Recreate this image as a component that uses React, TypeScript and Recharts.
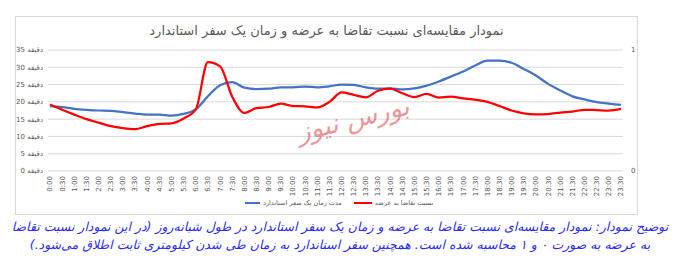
import { LineChart, Line, XAxis, YAxis, CartesianGrid } from 'recharts';

const TIMES = [
  '0:00', '0:30', '1:00', '1:30', '2:00', '2:30', '3:00', '3:30',
  '4:00', '4:30', '5:00', '5:30', '6:00', '6:30', '7:00', '7:30',
  '8:00', '8:30', '9:00', '9:30', '10:00', '10:30', '11:00', '11:30',
  '12:00', '12:30', '13:00', '13:30', '14:00', '14:30', '15:00', '15:30',
  '16:00', '16:30', '17:00', '17:30', '18:00', '18:30', '19:00', '19:30',
  '20:00', '20:30', '21:00', '21:30', '22:00', '22:30', '23:00', '23:30',
];

// standard trip duration, minutes (left axis)
const TRIP_MINUTES = [
  18.8, 18.5, 18.0, 17.7, 17.5, 17.4, 17.0, 16.6,
  16.3, 16.3, 16.0, 16.5, 17.8, 21.6, 24.8, 25.7,
  24.1, 23.7, 23.8, 24.2, 24.2, 24.4, 24.2, 24.5,
  25.0, 24.9, 24.2, 23.8, 23.9, 23.6, 23.9, 24.7,
  25.9, 27.3, 28.8, 30.5, 31.9, 31.9, 31.3, 29.5,
  27.6, 25.2, 23.3, 21.6, 20.7, 19.9, 19.5, 19.1,
];

// demand / supply ratio, 0..1 (right axis)
const DEMAND_RATIO = [
  0.549, 0.506, 0.466, 0.429, 0.4, 0.371, 0.354, 0.346,
  0.371, 0.389, 0.394, 0.434, 0.509, 0.9, 0.865, 0.614,
  0.48, 0.52, 0.529, 0.557, 0.537, 0.534, 0.526, 0.571,
  0.649, 0.629, 0.609, 0.663, 0.68, 0.643, 0.611, 0.637,
  0.606, 0.614, 0.6, 0.589, 0.571, 0.537, 0.5, 0.477,
  0.469, 0.471, 0.483, 0.491, 0.506, 0.503, 0.5, 0.514,
];

const MINUTE_TICKS = [0, 5, 10, 15, 20, 25, 30, 35];
const RATIO_TICKS = [0, 1];

const TITLE = 'نمودار مقایسه‌ای نسبت تقاضا به عرضه و زمان یک سفر استاندارد';
const TRIP_LABEL = 'مدت زمان یک سفر استاندارد';
const RATIO_LABEL = 'نسبت تقاضا به عرضه';
const MINUTE_UNIT = 'دقیقه';
const CAPTION_1 =
  'توضیح نمودار: نمودار مقایسه‌ای نسبت تقاضا به عرضه و زمان یک سفر استاندارد در طول شبانه‌روز (در این نمودار نسبت تقاضا';
const CAPTION_2 =
  'به عرضه به صورت ۰ و ۱ محاسبه شده است. همچنین سفر استاندارد به زمان طی شدن کیلومتری ثابت اطلاق می‌شود.)';
const WATERMARK = 'بورس نیوز';

const BLUE = '#4472C4';
const RED = '#FF0000';
const AXIS_TEXT = '#595959';
const GRID = '#d9d9d9';
const FONT = '"DejaVu Sans", "Noto Sans", sans-serif';

const data = TIMES.map((time, i) => ({
  time,
  trip: TRIP_MINUTES[i],
  ratio: DEMAND_RATIO[i],
}));

const TimeTick = ({ x, y, payload }: any) => (
  <text
    x={x}
    y={y}
    dy="0.35em"
    transform={`rotate(-90 ${x} ${y})`}
    textAnchor="end"
    fontSize={7}
    fill={AXIS_TEXT}
  >
    {payload.value}
  </text>
);

const MinuteTick = ({ x, y, payload }: any) => (
  <text x={x} y={y} dy="0.35em" textAnchor="end" fontSize={7} fill={AXIS_TEXT}>
    {`${payload.value} ${MINUTE_UNIT}`}
  </text>
);

const RatioTick = ({ x, y, payload }: any) => (
  <text x={x} y={y} dy="0.35em" textAnchor="start" fontSize={7} fill={AXIS_TEXT}>
    {payload.value}
  </text>
);

export default function App() {
  return (
    <div
      style={{
        position: 'relative',
        width: 680,
        height: 268,
        fontFamily: FONT,
        background: '#fff',
        overflow: 'hidden',
      }}
    >
      <style>{'body{margin:0}'}</style>
      <div
        style={{
          position: 'absolute',
          left: 15,
          top: 16,
          width: 621,
          height: 197,
          border: `1px solid ${GRID}`,
        }}
      />
      <div
        dir="rtl"
        style={{
          position: 'absolute',
          left: 15,
          width: 623,
          top: 23,
          textAlign: 'center',
          fontSize: 13,
          color: AXIS_TEXT,
        }}
      >
        {TITLE}
      </div>

      <LineChart
        width={680}
        height={268}
        data={data}
        margin={{ top: 50, right: 37, bottom: 67, left: 8 }}
        style={{ position: 'absolute', left: 0, top: 0 }}
      >
        <CartesianGrid yAxisId="left" vertical={false} stroke={GRID} strokeWidth={1} />
        <XAxis
          dataKey="time"
          interval={0}
          height={30}
          padding={{ left: 2, right: 2 }}
          axisLine={false}
          tickLine={false}
          tickSize={0}
          tickMargin={5}
          tick={<TimeTick />}
        />
        <YAxis
          yAxisId="left"
          domain={[0, 35]}
          ticks={MINUTE_TICKS}
          interval={0}
          width={40}
          axisLine={false}
          tickLine={false}
          tickSize={0}
          tickMargin={5}
          tick={<MinuteTick />}
        />
        <YAxis
          yAxisId="right"
          orientation="right"
          domain={[0, 1]}
          ticks={RATIO_TICKS}
          interval={0}
          width={20}
          axisLine={false}
          tickLine={false}
          tickSize={0}
          tickMargin={8}
          tick={<RatioTick />}
        />
        <Line
          yAxisId="left"
          type="monotone"
          dataKey="trip"
          stroke={BLUE}
          strokeWidth={2.25}
          dot={false}
          isAnimationActive={false}
        />
        <Line
          yAxisId="right"
          type="monotone"
          dataKey="ratio"
          stroke={RED}
          strokeWidth={2.25}
          dot={false}
          isAnimationActive={false}
        />
      </LineChart>

      <div
        style={{
          position: 'absolute',
          left: 296,
          top: 104,
          fontSize: 26,
          fontStyle: 'italic',
          color: 'rgba(214, 60, 70, 0.55)',
          transform: 'rotate(-14deg)',
          whiteSpace: 'nowrap',
        }}
      >
        {WATERMARK}
      </div>

      <div
        style={{
          position: 'absolute',
          left: 245,
          top: 199,
          display: 'flex',
          alignItems: 'center',
          fontSize: 6.5,
          color: AXIS_TEXT,
          whiteSpace: 'nowrap',
        }}
      >
        <span style={{ width: 15, height: 2, background: BLUE, marginRight: 3 }} />
        <span style={{ marginRight: 12 }}>{TRIP_LABEL}</span>
        <span style={{ width: 18, height: 2, background: RED, marginRight: 3 }} />
        <span>{RATIO_LABEL}</span>
      </div>

      <div
        dir="rtl"
        style={{
          position: 'absolute',
          left: 0,
          width: 680,
          top: 218,
          textAlign: 'center',
          fontSize: 12.5,
          lineHeight: '18px',
          fontStyle: 'italic',
          color: '#2b2bf0',
          whiteSpace: 'nowrap',
        }}
      >
        <div>{CAPTION_1}</div>
        <div>{CAPTION_2}</div>
      </div>
    </div>
  );
}
